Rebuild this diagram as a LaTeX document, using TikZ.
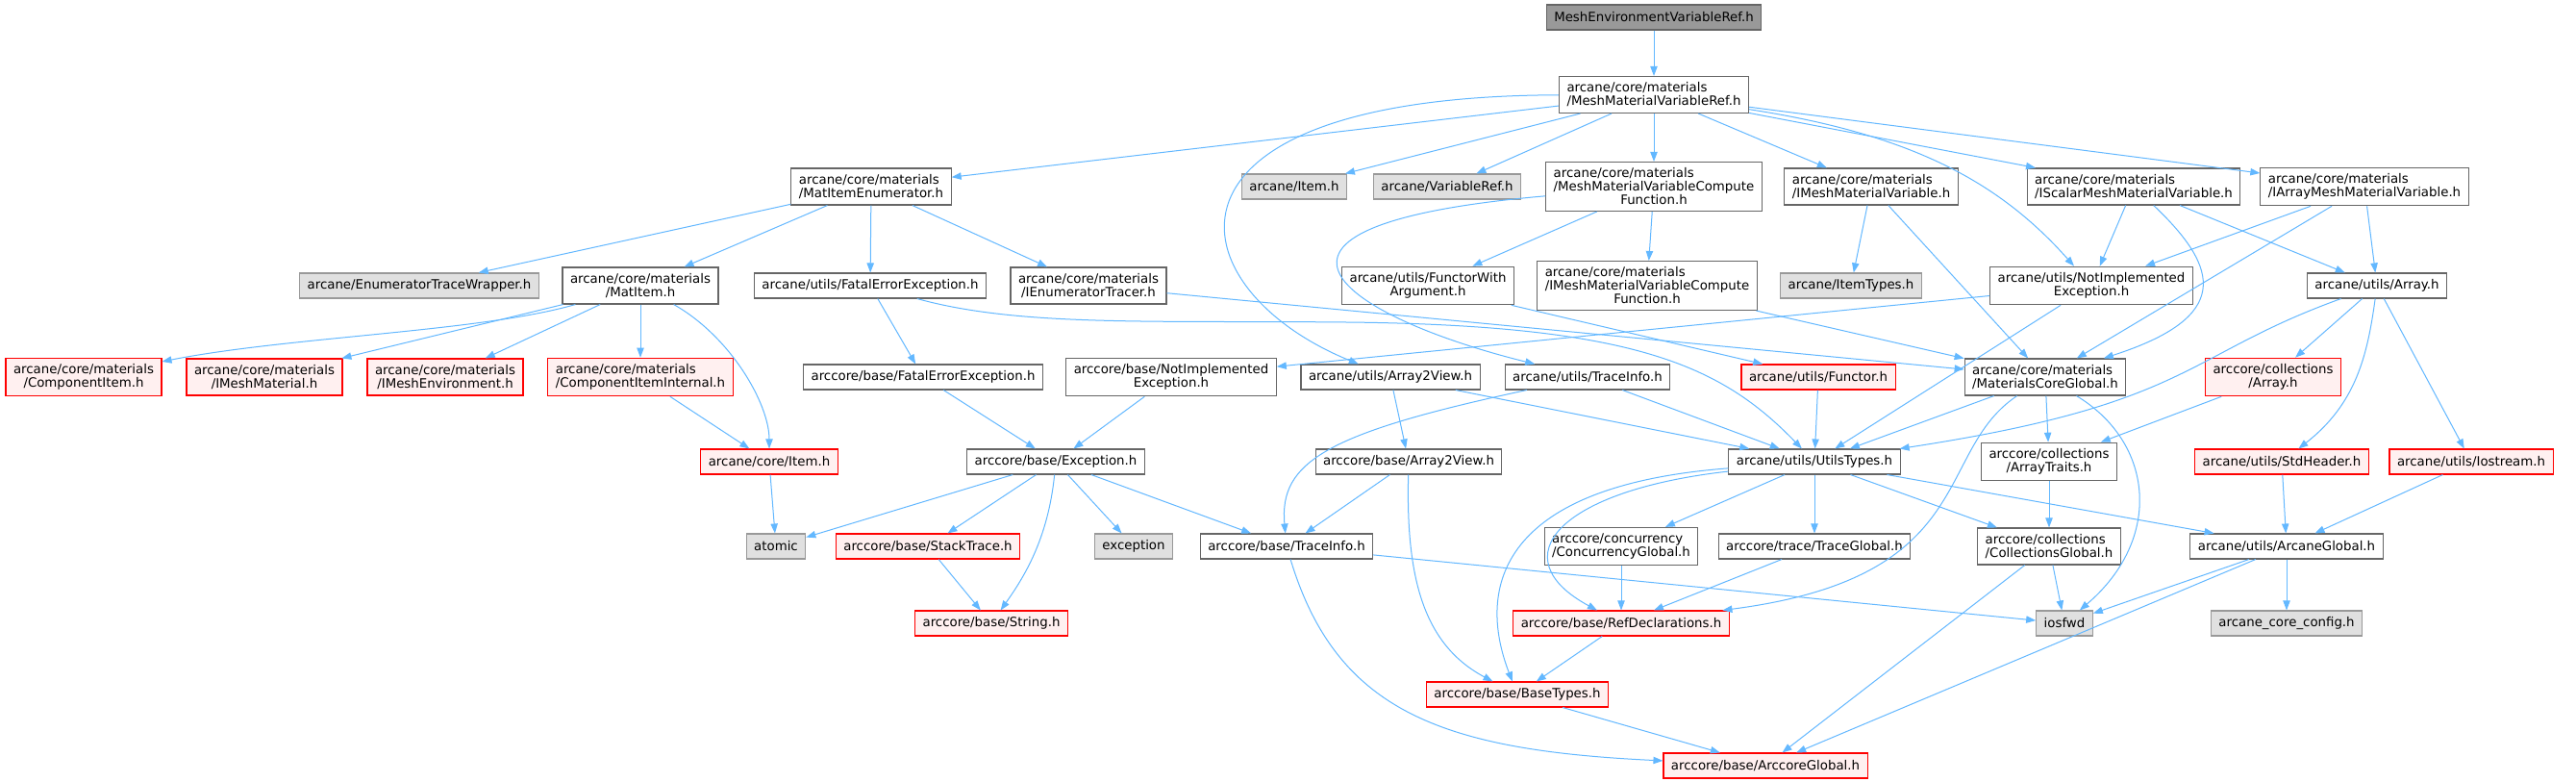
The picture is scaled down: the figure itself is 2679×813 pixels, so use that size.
\documentclass[tikz,border=0pt]{standalone}
\usepackage{fontspec}
\setmainfont{DejaVu Sans}
\usetikzlibrary{arrows.meta}

\definecolor{edgeblue}{HTML}{63B8FF}
\definecolor{boxline}{HTML}{666666}
\definecolor{extline}{HTML}{999999}
\definecolor{extfill}{HTML}{E0E0E0}
\definecolor{truncfill}{HTML}{FFF0F0}
\definecolor{rootfill}{HTML}{999999}

\begin{document}
\begin{tikzpicture}[
        x=0.75pt, y=-0.75pt,
        file/.style={
            draw=boxline,
            fill=white,
            line width=0.8pt,
            align=center,
            minimum height=19.5pt,
            inner xsep=6pt,
            inner ysep=4.75pt,
            font=\fontsize{10}{10.5}\selectfont
        },
        ext/.style={
            file,
            draw=extline,
            fill=extfill
        },
        trunc/.style={
            file,
            draw=red,
            fill=truncfill
        },
        root/.style={
            file,
            fill=rootfill
        },
        dep/.style={
            draw=edgeblue,
            line width=0.75pt,
            -{Triangle[length=7.5pt,width=5.5pt]}
        }
    ]

        \path[fill=white] (0,0) rectangle (2679,813);

        % rank 0 and 1
        \node[root] (top) at (1720,18) {MeshEnvironmentVariableRef.h};
        \node[file, align=left] (mmvr) at (1720,98.5)
            {arcane/core/materials\\/MeshMaterialVariableRef.h};

        % rank 2
        \node[file, align=left] (matenum) at (906,194)
            {arcane/core/materials\\/MatItemEnumerator.h};
        \node[ext] (itemh) at (1346,194) {arcane/Item.h};
        \node[ext] (varref) at (1505,194) {arcane/VariableRef.h};
        \node[file] (mmvcf) at (1720,194)
            {\rlap{arcane/core/materials}\phantom{/MeshMaterialVariableCompute}\\
             /MeshMaterialVariableCompute\\Function.h};
        \node[file, align=left] (immv) at (1946,194)
            {arcane/core/materials\\/IMeshMaterialVariable.h};
        \node[file, align=left] (ismmv) at (2219,194)
            {arcane/core/materials\\/IScalarMeshMaterialVariable.h};
        \node[file, align=left] (iammv) at (2459,194)
            {arcane/core/materials\\/IArrayMeshMaterialVariable.h};

        % rank 3
        \node[ext] (etwrap) at (436,297) {arcane/EnumeratorTraceWrapper.h};
        \node[file] (matitem) at (666,297)
            {arcane/core/materials\\/MatItem.h};
        \node[file] (fatalu) at (905,297) {arcane/utils/FatalErrorException.h};
        \node[file] (enumtr) at (1132,297)
            {arcane/core/materials\\/IEnumeratorTracer.h};
        \node[file] (functarg) at (1485,297)
            {arcane/utils/FunctorWith\\Argument.h};
        \node[file] (immvcf) at (1713,297)
            {\rlap{arcane/core/materials}\phantom{/IMeshMaterialVariableCompute}\\
             /IMeshMaterialVariableCompute\\Function.h};
        \node[ext] (itemtypes) at (1925,297) {arcane/ItemTypes.h};
        \node[file] (notimplu) at (2175,297)
            {arcane/utils/NotImplemented\\Exception.h};
        \node[file] (arrayu) at (2472,297) {arcane/utils/Array.h};

        % rank 4
        \node[trunc] (compitem) at (87,392)
            {arcane/core/materials\\/ComponentItem.h};
        \node[trunc] (imeshmat) at (275,392)
            {arcane/core/materials\\/IMeshMaterial.h};
        \node[trunc] (imeshenv) at (463,392)
            {arcane/core/materials\\/IMeshEnvironment.h};
        \node[trunc, align=left] (compint) at (666,392)
            {arcane/core/materials\\/ComponentItemInternal.h};
        \node[file] (fatala) at (960,392) {arccore/base/FatalErrorException.h};
        \node[file] (notimpla) at (1218,392)
            {arccore/base/NotImplemented\\Exception.h};
        \node[file] (a2vu) at (1446,392) {arcane/utils/Array2View.h};
        \node[file] (tiu) at (1651,392) {arcane/utils/TraceInfo.h};
        \node[trunc] (functor) at (1891,392) {arcane/utils/Functor.h};
        \node[file, align=left] (mcg) at (2127,392)
            {arcane/core/materials\\/MaterialsCoreGlobal.h};
        \node[trunc] (arrayc) at (2364,392)
            {arccore/collections\\/Array.h};

        % rank 5
        \node[trunc] (coreitem) at (800,480) {arcane/core/Item.h};
        \node[file] (exc) at (1098,480) {arccore/base/Exception.h};
        \node[file] (a2va) at (1465,480) {arccore/base/Array2View.h};
        \node[file] (utypes) at (1887,480) {arcane/utils/UtilsTypes.h};
        \node[file] (atraits) at (2131,480)
            {arccore/collections\\/ArrayTraits.h};
        \node[trunc] (stdhdr) at (2373,480) {arcane/utils/StdHeader.h};
        \node[trunc] (iostr) at (2570,480) {arcane/utils/Iostream.h};

        % rank 6
        \node[ext] (atomic) at (807,568) {atomic};
        \node[trunc] (stacktr) at (965,568) {arccore/base/StackTrace.h};
        \node[ext] (excstd) at (1179,568) {exception};
        \node[file] (tia) at (1338,568) {arccore/base/TraceInfo.h};
        \node[file, align=left] (concg) at (1686,568)
            {arccore/concurrency\\/ConcurrencyGlobal.h};
        \node[file] (traceg) at (1887,568) {arccore/trace/TraceGlobal.h};
        \node[file, align=left] (collg) at (2131,568)
            {arccore/collections\\/CollectionsGlobal.h};
        \node[file] (arcg) at (2378,568) {arcane/utils/ArcaneGlobal.h};

        % ranks 7 to 9
        \node[trunc] (strh) at (1031,648) {arccore/base/String.h};
        \node[trunc] (refdecl) at (1686,648) {arccore/base/RefDeclarations.h};
        \node[ext] (iosfwd) at (2147,648) {iosfwd};
        \node[ext] (coreconf) at (2378,648) {arcane\_core\_config.h};
        \node[trunc] (basetypes) at (1578,722) {arccore/base/BaseTypes.h};
        \node[trunc] (arcoreg) at (1836,796) {arccore/base/ArccoreGlobal.h};

        % include edges
        \draw[dep] (top) -- (mmvr);
        \draw[dep] (mmvr) -- (matenum);
        \draw[dep] (mmvr) .. controls (1180,100) and (1220,300) .. (a2vu);
        \draw[dep] (mmvr) -- (itemh);
        \draw[dep] (mmvr) -- (varref);
        \draw[dep] (mmvr) -- (mmvcf);
        \draw[dep] (mmvr) -- (immv);
        \draw[dep] (mmvr) -- (ismmv);
        \draw[dep] (mmvr) -- (iammv);
        \draw[dep] (mmvr) .. controls (1990,140) and (2080,190) .. (notimplu);

        \draw[dep] (matenum) -- (etwrap);
        \draw[dep] (matenum) -- (matitem);
        \draw[dep] (matenum) -- (fatalu);
        \draw[dep] (matenum) -- (enumtr);

        \draw[dep] (matitem) .. controls (500,345) and (300,350) .. (compitem);
        \draw[dep] (matitem) -- (imeshmat);
        \draw[dep] (matitem) -- (imeshenv);
        \draw[dep] (matitem) -- (compint);
        \draw[dep] (matitem) .. controls (760,350) and (800,420) .. (coreitem);
        \draw[dep] (compint) -- (coreitem);
        \draw[dep] (coreitem) -- (atomic);

        \draw[dep] (fatalu) -- (fatala);
        \draw[dep] (fatalu) .. controls (1060,340) and (1200,333) .. (1400,335)
            .. controls (1700,338) and (1790,380) .. (utypes);
        \draw[dep] (enumtr) -- (mcg);

        \draw[dep] (mmvcf) -- (functarg);
        \draw[dep] (mmvcf) -- (immvcf);
        \draw[dep] (mmvcf) .. controls (1250,235) and (1400,330) .. (tiu);
        \draw[dep] (functarg) -- (functor);
        \draw[dep] (functor) -- (utypes);
        \draw[dep] (immvcf) -- (mcg);

        \draw[dep] (immv) -- (itemtypes);
        \draw[dep] (immv) -- (mcg);
        \draw[dep] (ismmv) -- (notimplu);
        \draw[dep] (ismmv) .. controls (2310,280) and (2320,330) .. (mcg);
        \draw[dep] (ismmv) -- (arrayu);
        \draw[dep] (iammv) -- (notimplu);
        \draw[dep] (iammv) -- (mcg);
        \draw[dep] (iammv) -- (arrayu);

        \draw[dep] (notimplu) -- (notimpla);
        \draw[dep] (notimplu) -- (utypes);
        \draw[dep] (arrayu) .. controls (2270,370) and (2280,420) .. (utypes);
        \draw[dep] (arrayu) -- (arrayc);
        \draw[dep] (arrayu) .. controls (2462,370) and (2450,420) .. (stdhdr);
        \draw[dep] (arrayu) -- (iostr);
        \draw[dep] (arrayc) -- (atraits);

        \draw[dep] (mcg) -- (utypes);
        \draw[dep] (mcg) .. controls (2010,470) and (2060,600) .. (refdecl);
        \draw[dep] (mcg) -- (atraits);
        \draw[dep] (mcg) .. controls (2240,460) and (2250,560) .. (iosfwd);

        \draw[dep] (atraits) -- (collg);
        \draw[dep] (collg) -- (iosfwd);
        \draw[dep] (collg) -- (arcoreg);
        \draw[dep] (stdhdr) -- (arcg);
        \draw[dep] (iostr) -- (arcg);
        \draw[dep] (arcg) -- (iosfwd);
        \draw[dep] (arcg) -- (coreconf);
        \draw[dep] (arcg) -- (arcoreg);

        \draw[dep] (utypes) -- (arcg);
        \draw[dep] (utypes) -- (collg);
        \draw[dep] (utypes) -- (traceg);
        \draw[dep] (utypes) -- (concg);
        \draw[dep] (utypes) .. controls (1620,510) and (1560,580) .. (refdecl);
        \draw[dep] (utypes) .. controls (1560,505) and (1535,610) .. (basetypes);
        \draw[dep] (traceg) -- (refdecl);
        \draw[dep] (concg) -- (refdecl);
        \draw[dep] (refdecl) -- (basetypes);
        \draw[dep] (basetypes) -- (arcoreg);

        \draw[dep] (tia) -- (iosfwd);
        \draw[dep] (tia) .. controls (1390,740) and (1500,780) .. (arcoreg);
        \draw[dep] (a2va) -- (tia);
        \draw[dep] (a2va) .. controls (1462,600) and (1480,670) .. (basetypes);
        \draw[dep] (a2vu) -- (a2va);
        \draw[dep] (a2vu) -- (utypes);
        \draw[dep] (tiu) .. controls (1380,450) and (1330,480) .. (tia);
        \draw[dep] (tiu) -- (utypes);

        \draw[dep] (exc) -- (stacktr);
        \draw[dep] (exc) .. controls (1090,560) and (1065,600) .. (strh);
        \draw[dep] (exc) -- (excstd);
        \draw[dep] (exc) -- (tia);
        \draw[dep] (exc) -- (atomic);
        \draw[dep] (stacktr) -- (strh);
        \draw[dep] (fatala) -- (exc);
        \draw[dep] (notimpla) -- (exc);

    \end{tikzpicture}
\end{document}
